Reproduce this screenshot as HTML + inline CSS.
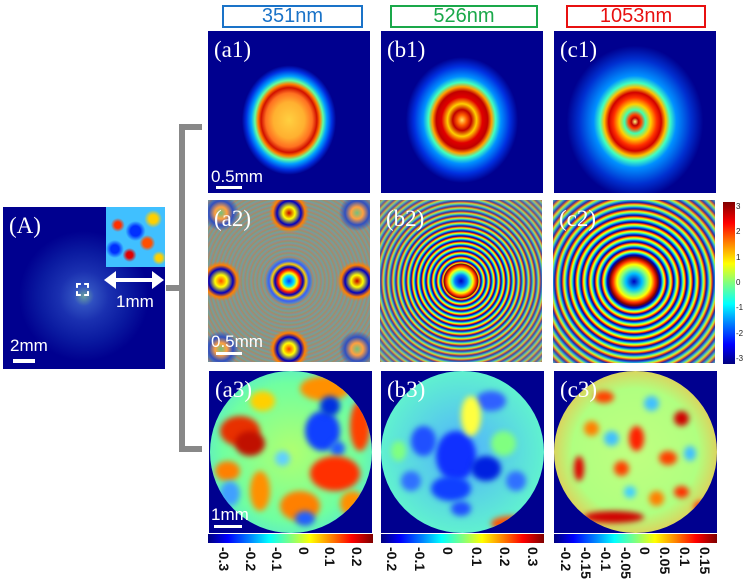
<!DOCTYPE html>
<html><head><meta charset="utf-8">
<style>
body{margin:0;width:744px;height:587px;background:#fff;position:relative;overflow:hidden;font-family:"Liberation Sans",sans-serif}
.a{position:absolute}
.hdr{position:absolute;height:19px;border:2px solid;font-size:20px;line-height:19px;text-align:center;font-family:"Liberation Sans",sans-serif}
.pn{position:absolute;background:#00008f;overflow:hidden}
.lab{position:absolute;left:6px;top:6px;color:#fff;font-family:"Liberation Serif",serif;font-size:23px;z-index:2}
.sb{position:absolute;color:#fff;font-size:17px;z-index:2}
.jet{background:linear-gradient(90deg,#00007f,#0000ff 12%,#007fff 25%,#00ffff 37%,#7fff7f 50%,#ffff00 62%,#ff7f00 75%,#ff0000 87%,#7f0000)}
.tk{position:absolute;font-weight:bold;font-size:14px;color:#111;transform-origin:0 0;transform:rotate(90deg);white-space:nowrap}
.br{position:absolute;background:#888}
.disk{position:absolute;border-radius:50%;overflow:hidden}
.blob{position:absolute;border-radius:50%;filter:blur(3px)}
</style></head><body>
<div class="hdr" style="left:222px;top:5px;width:137px;border-color:#1a73c8;color:#1a73c8">351nm</div>
<div class="hdr" style="left:390px;top:5px;width:144px;border-color:#1aa84a;color:#1aa84a">526nm</div>
<div class="hdr" style="left:566px;top:5px;width:136px;border-color:#e81010;color:#e81010">1053nm</div>

<div class="pn" style="left:3px;top:207px;width:162px;height:162px;background:radial-gradient(circle at 50% 55%,#6aa0a0 0,#3050c0 10px,#1a30b0 25px,#0a1aa0 45px,#00008f 65px)">
<div class="lab">(A)</div>
<div class="a" style="left:103px;top:0;width:59px;height:60px;background:radial-gradient(circle at 20% 30%,#ff3000 3px,transparent 7px),radial-gradient(circle at 70% 60%,#ff5000 4px,transparent 8px),radial-gradient(circle at 40% 80%,#e00000 3px,transparent 7px),radial-gradient(circle at 80% 20%,#ffd000 4px,transparent 9px),radial-gradient(circle at 50% 40%,#0030ff 5px,transparent 10px),radial-gradient(circle at 15% 70%,#0030ff 4px,transparent 9px),radial-gradient(circle at 90% 85%,#ffd000 3px,transparent 7px),#40c0ff"></div>
<div class="a" style="left:73px;top:76px;width:9px;height:9px;border:2px dashed #fff"></div>
<div class="a" style="left:110px;top:71px;width:42px;height:4px;background:#fff"></div>
<div class="a" style="left:101px;top:64px;width:0;height:0;border-top:9px solid transparent;border-bottom:9px solid transparent;border-right:12px solid #fff"></div>
<div class="a" style="left:149px;top:64px;width:0;height:0;border-top:9px solid transparent;border-bottom:9px solid transparent;border-left:12px solid #fff"></div>
<div class="sb" style="left:113px;top:85px">1mm</div>
<div class="sb" style="left:7px;top:129px">2mm</div>
<div class="a" style="left:10px;top:152px;width:22px;height:4px;background:#fff"></div>
</div>

<div class="br" style="left:179px;top:125px;width:6px;height:327px"></div>
<div class="br" style="left:179px;top:124px;width:23px;height:6px"></div>
<div class="br" style="left:179px;top:446px;width:23px;height:6px"></div>
<div class="br" style="left:166px;top:285px;width:16px;height:6px"></div>

<div class="pn" style="left:208px;top:31px;width:162px;height:162px;background:radial-gradient(ellipse 31px 36px at 50% 55%,#ffd040 0,#ffb030 50%,#ff7020 75%,#d01000 90%,#ff8000 100%,#60ffa0 110%,#00a0ff 122%,#0030e0 138%,#00008f 152%)">
<div class="lab">(a1)</div><div class="sb" style="left:3px;top:136px">0.5mm</div><div class="a" style="left:8px;top:155px;width:26px;height:3px;background:#fff"></div></div>
<div class="pn" style="left:381px;top:31px;width:162px;height:162px;background:radial-gradient(ellipse 33px 37px at 50% 55%,#ffe060 0,#ff6000 14%,#c00000 28%,#ffd000 44%,#e00000 62%,#c00000 78%,#ffa000 90%,#40ffc0 102%,#0090ff 118%,#0030e0 145%,#00008f 170%)">
<div class="lab">(b1)</div></div>
<div class="pn" style="left:554px;top:31px;width:162px;height:162px;background:radial-gradient(ellipse 35px 39px at 50% 56%,#ffff80 0,#c00000 10%,#ff4000 18%,#40ffb0 30%,#ffd000 45%,#ff3000 62%,#d00000 75%,#ffc000 88%,#40ffc0 100%,#0090ff 118%,#0030d0 160%,#00008f 195%)">
<div class="lab">(c1)</div></div>

<div class="pn" style="left:208px;top:200px;width:162px;height:162px;background:
radial-gradient(circle at 50% 50%,#0040ff 0,#00e0ff 5px,#ffff00 8px,#ff2000 11px,#0000c0 14px,#ffd000 17px,#3060ff 20px,transparent 24px),
radial-gradient(circle at 8% 50%,#ff5000 0,#ffff00 6px,#0000c0 12px,#ff8000 16px,transparent 20px),
radial-gradient(circle at 92% 50%,#c00000 0,#ffff00 6px,#0000c0 12px,#ff8000 16px,transparent 20px),
radial-gradient(circle at 50% 8%,#c00000 0,#ffff00 6px,#0000c0 12px,#ff8000 16px,transparent 20px),
radial-gradient(circle at 50% 92%,#ff4000 0,#ffff00 6px,#0000c0 12px,#ff8000 16px,transparent 20px),
radial-gradient(circle at 92% 92%,#70c080 0,#ffa040 6px,#3050c0 12px,transparent 18px),
radial-gradient(circle at 92% 8%,#70c080 0,#ffa040 6px,#3050c0 12px,transparent 18px),
radial-gradient(circle at 8% 92%,#70c080 0,#ffa040 6px,#3050c0 12px,transparent 18px),
radial-gradient(circle at 8% 8%,#70c080 0,#ffa040 6px,#3050c0 12px,transparent 18px),
repeating-radial-gradient(circle at 50% 50%,#b08070 0,#70a0a0 2px,#a09060 4px),#8c9488">
<div class="lab">(a2)</div><div class="sb" style="left:3px;top:132px">0.5mm</div><div class="a" style="left:8px;top:152px;width:26px;height:3px;background:#fff"></div></div>
<div class="pn" style="left:380px;top:200px;width:162px;height:162px;background:radial-gradient(circle at 50% 50%,transparent 45px,rgba(140,150,140,.35) 70px,rgba(140,150,140,.7) 115px),radial-gradient(circle at 50% 50%,#0000c0 0,#0080ff 6px,#40ffc0 9px,#ffff00 12px,#ff3000 15px,#800000 17px,transparent 18px),repeating-radial-gradient(circle at 50% 50%,#0000a0 0,#0080ff 1.2px,#40ffa0 2px,#ffff00 3px,#ff3000 4px,#0000a0 5px),#8090a0">
<div class="lab">(b2)</div></div>
<div class="pn" style="left:553px;top:200px;width:162px;height:163px;background:radial-gradient(circle at 50% 50%,transparent 60px,rgba(140,150,140,.3) 90px,rgba(140,150,140,.5) 115px),radial-gradient(circle at 50% 50%,#0000c0 0,#00c0ff 8px,#80ff80 13px,#ffff00 17px,#ff3000 21px,#800000 24px,#0000a0 26px,transparent 27px),repeating-radial-gradient(circle at 50% 50%,#0000a0 0,#0080ff 1.6px,#40ffa0 2.6px,#ffff00 4px,#ff3000 5.4px,#0000a0 6.6px),#8090a0">
<div class="lab">(c2)</div></div>
<div class="a" style="left:723px;top:202px;width:12px;height:162px;background:linear-gradient(0deg,#00007f,#0000ff 12%,#007fff 25%,#00ffff 37%,#7fff7f 50%,#ffff00 62%,#ff7f00 75%,#ff0000 87%,#7f0000)"></div>
<div id="phaseTicks"></div>

<div class="pn" style="left:209px;top:371px;width:163px;height:162px">
<div class="disk" id="d-a" style="left:1px;top:0;width:162px;height:162px;background:radial-gradient(circle at 50% 50%,#b0ff70,#70ffa0 60%,#40d0ff)"></div>
<div class="lab">(a3)</div><div class="sb" style="left:2px;top:134px">1mm</div><div class="a" style="left:5px;top:154px;width:28px;height:3px;background:#fff;z-index:2"></div></div>
<div class="pn" style="left:381px;top:371px;width:163px;height:162px">
<div class="disk" id="d-b" style="left:0;top:0;width:163px;height:162px;background:radial-gradient(circle at 50% 50%,#50b0ff,#60f0d0 70%,#40c0ff)"></div>
<div class="lab">(b3)</div></div>
<div class="pn" style="left:554px;top:371px;width:163px;height:162px">
<div class="disk" id="d-c" style="left:0;top:0;width:163px;height:162px;background:radial-gradient(circle at 50% 50%,#c0ff80,#b0ff80 55%,#ffb040 85%,#e02000 97%)"></div>
<div class="lab">(c3)</div></div>

<div class="a jet" style="left:208px;top:534px;width:165px;height:9px"></div>
<div class="a jet" style="left:381px;top:534px;width:163px;height:9px"></div>
<div class="a jet" style="left:554px;top:534px;width:163px;height:9px"></div>
<div id="ticks"></div>

<script>
const phaseTicks=[3,2,1,0,-1,-2,-3];
const cbA=[-0.3,-0.2,-0.1,0,0.1,0.2];
const cbB=[-0.2,-0.1,0,0.1,0.2,0.3];
const cbC=[-0.2,-0.15,-0.1,-0.05,0,0.05,0.1,0.15];
const cbAdom=[-0.36,0.26], cbBdom=[-0.24,0.34], cbCdom=[-0.23,0.18];
function scale(d,r){return v=>r[0]+(v-d[0])/(d[1]-d[0])*(r[1]-r[0]);}
const host=document.getElementById('ticks');
function addTicks(vals,dom,x0,x1,name){
  const sx=scale(dom,[x0,x1]);
  vals.forEach(v=>{
    const t=document.createElement('div');
    t.className='tk';
    
    
    t.textContent=String(v);
    t.style.left=(sx(v)+8)+'px';t.style.top='547px';
    host.appendChild(t);
  });
}
addTicks(cbA,cbAdom,208,373,'colorbar-a3');
addTicks(cbB,cbBdom,381,544,'colorbar-b3');
addTicks(cbC,cbCdom,554,717,'colorbar-c3');
const ph=document.getElementById('phaseTicks');
const sy=scale([3.2,-3.2],[202,364]);
phaseTicks.forEach(v=>{
  const t=document.createElement('div');
  
  
  t.className='a';
  t.textContent=String(v);
  t.style.cssText+='left:736px;font-size:8px;color:#222;top:'+(sy(v)-5)+'px';
  ph.appendChild(t);
});
// texture blobs for wavefront maps: [x,y,w,h,color]
const blobsA=[[10,45,40,30,'#e83000'],[25,60,30,25,'#c01000'],[5,90,25,20,'#ff8000'],[90,5,50,25,'#ff9000'],[140,30,20,50,'#ff4000'],[95,40,35,40,'#1040ff'],[110,25,20,20,'#0030e0'],[120,70,15,15,'#2060ff'],[100,85,50,35,'#ff3000'],[70,120,40,30,'#ff8000'],[40,100,20,40,'#ff9000'],[10,110,20,25,'#40a0ff'],[65,80,15,15,'#60d0ff'],[40,20,25,20,'#ffd000'],[130,120,25,25,'#ff9000'],[85,140,20,15,'#2060ff']];
const blobsB=[[55,60,40,50,'#1030ff'],[30,55,25,30,'#2050ff'],[90,85,30,25,'#0020e0'],[50,105,40,25,'#1040ff'],[70,130,20,15,'#2050ff'],[95,20,30,20,'#3060ff'],[20,100,20,20,'#3070ff'],[110,60,25,25,'#80ff80'],[80,25,20,40,'#ffff40'],[110,145,40,15,'#ff5000'],[125,100,20,20,'#3070ff'],[10,70,15,20,'#80ff80']];
const blobsC=[[75,55,15,25,'#ff2000'],[60,90,15,15,'#ff4000'],[105,80,18,14,'#ff4000'],[20,85,10,25,'#e00000'],[40,20,20,12,'#ff4000'],[120,40,15,15,'#d00000'],[30,140,60,12,'#d00000'],[120,115,15,12,'#ff3000'],[90,25,15,15,'#40c0ff'],[50,60,15,15,'#40c0ff'],[130,75,12,15,'#40c0ff'],[95,120,15,15,'#ff8000'],[30,50,15,15,'#ff8000'],[140,130,12,12,'#ff3000'],[70,115,12,12,'#40d0ff']];
function addBlobs(id,list){
  const d=document.getElementById(id);
  list.forEach(b=>{
    const e=document.createElement('div');
    
    
    e.className='blob';
    e.style.cssText+='left:'+b[0]+'px;top:'+b[1]+'px;width:'+b[2]+'px;height:'+b[3]+'px;background:'+b[4];
    d.appendChild(e);
  });
}
addBlobs('d-a',blobsA);addBlobs('d-b',blobsB);addBlobs('d-c',blobsC);
</script>
</body></html>
